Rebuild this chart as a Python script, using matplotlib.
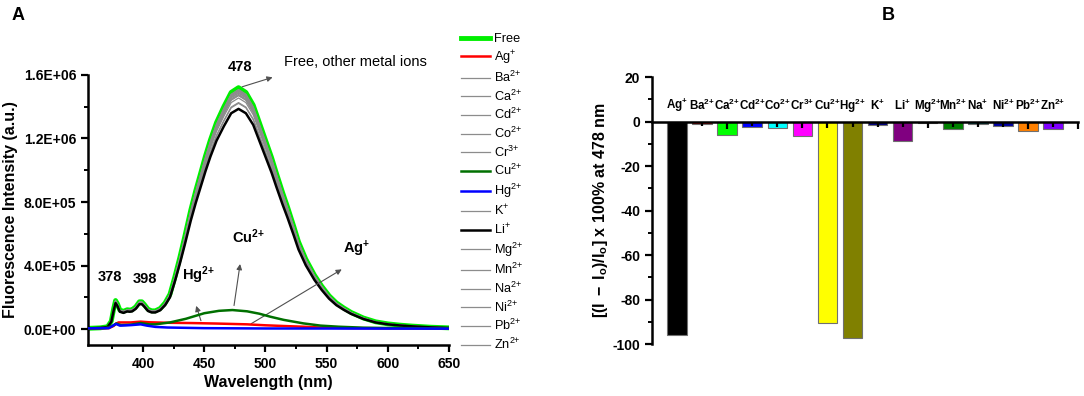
import numpy as np
import matplotlib
matplotlib.use('Agg')
import matplotlib.pyplot as plt
from matplotlib.ticker import MultipleLocator, FuncFormatter

plt.rcParams['font.family'] = ['Liberation Sans', 'DejaVu Sans']
plt.rcParams['mathtext.fontset'] = 'custom'
plt.rcParams['mathtext.rm'] = 'Liberation Sans'
plt.rcParams['mathtext.it'] = 'Liberation Sans:italic'
plt.rcParams['mathtext.bf'] = 'Liberation Sans:bold'
plt.rcParams['axes.unicode_minus'] = False

# ---- panel A data (intensity in units of 1e5 a.u.) ----
free_wl = [355, 365, 371, 374, 376, 377.5, 379, 381, 384, 387, 389, 391, 394, 397, 399,
           401, 404, 407, 410, 414, 418, 422, 426, 430, 434, 439, 443, 447, 451, 455,
           460, 466, 472, 478, 484, 490, 495, 500, 505, 509, 514, 518, 523, 527, 533,
           540, 546, 552, 558, 564, 570, 580, 590, 600, 610, 620, 635, 650]
free_int = [0.05, 0.08, 0.15, 0.5, 1.3, 1.8, 1.6, 1.2, 1.12, 1.22, 1.2, 1.22, 1.4, 1.72, 1.72,
            1.55, 1.25, 1.15, 1.15, 1.3, 1.65, 2.2, 3.3, 4.5, 5.8, 7.5, 8.7, 9.8, 10.9, 11.9,
            13.0, 14.0, 14.9, 15.2, 14.9, 14.1, 13.0, 11.9, 10.8, 9.8, 8.6, 7.7, 6.5, 5.5, 4.4,
            3.4, 2.7, 2.1, 1.65, 1.33, 1.05, 0.7, 0.46, 0.33, 0.25, 0.19, 0.12, 0.08]

cu_wl = [355, 370, 375, 378, 382, 390, 398, 405, 410, 422, 435, 450, 462, 473, 485, 495,
         504, 515, 531, 545, 560, 580, 600, 650]
cu_int = [0.05, 0.08, 0.2, 0.35, 0.25, 0.28, 0.38, 0.3, 0.3, 0.42, 0.65, 1.0, 1.15, 1.2,
          1.12, 0.97, 0.78, 0.58, 0.36, 0.22, 0.15, 0.09, 0.07, 0.05]

ag_wl = [355, 372, 376, 378, 380, 390, 398, 405, 420, 440, 460, 485, 500, 520, 531, 545,
         572, 600, 650]
ag_int = [0.05, 0.06, 0.2, 0.35, 0.42, 0.42, 0.47, 0.43, 0.4, 0.38, 0.35, 0.3, 0.24, 0.18,
          0.15, 0.1, 0.06, 0.05, 0.04]

hg_wl = [355, 372, 376, 378, 381, 390, 398, 403, 410, 420, 450, 500, 650]
hg_int = [0.05, 0.06, 0.25, 0.32, 0.22, 0.25, 0.3, 0.22, 0.14, 0.1, 0.06, 0.04, 0.03]

# ---- panel B data: change at 478 nm (%) ----
ions = ['Ag', 'Ba', 'Ca', 'Cd', 'Co', 'Cr', 'Cu', 'Hg', 'K', 'Li', 'Mg', 'Mn', 'Na',
        'Ni', 'Pb', 'Zn']
charges = ['+', '2+', '2+', '2+', '2+', '3+', '2+', '2+', '+', '+', '2+', '2+', '+',
           '2+', '2+', '2+']
change = [-96, -0.9, -6.2, -2.3, -2.8, -6.5, -90.5, -97.5, -1.6, -8.8, -0.8, -3.3, -1.3,
          -2.0, -4.3, -3.2]
change_err = [3, 2, 3.5, 2, 2.5, 3, 3, 2.5, 2.5, 2.5, 3, 2.5, 2.5, 2.5, 3.5, 2.5]
bar_colors = ['#000000', '#ff0000', '#00ff00', '#0000ff', '#00ffff', '#ff00ff', '#ffff00',
              '#808000', '#000080', '#800080', '#800000', '#008000', '#008080', '#0000a0',
              '#ff8000', '#8000ff']

legend_names = ['Free', 'Ag', 'Ba', 'Ca', 'Cd', 'Co', 'Cr', 'Cu', 'Hg', 'K', 'Li', 'Mg',
                'Mn', 'Na', 'Ni', 'Pb', 'Zn']
legend_charges = ['', '+', '2+', '2+', '2+', '2+', '3+', '2+', '2+', '+', '+', '2+', '2+',
                  '2+', '2+', '2+', '2+']


def sup(ch):
    # keep "+" as an ordinary symbol so mathtext adds no operator spacing
    return ch.replace('+', '{+}')


fig = plt.figure(figsize=(10.84, 3.96), dpi=100)
axA = fig.add_axes([0.0812, 0.1288, 0.333, 0.682])
axB = fig.add_axes([0.6015, 0.1313, 0.393, 0.674])

# ---- panel A ----
free_wl = np.array(free_wl)
free_int = np.array(free_int) * 1e5
special = {'Cu': (cu_wl, cu_int, '#007000'), 'Ag': (ag_wl, ag_int, '#ff0000'),
           'Hg': (hg_wl, hg_int, '#0000ff')}
handles = []
for name, ch in zip(legend_names, legend_charges):
    label = name if ch == '' else name + '$^{' + sup(ch) + '}$'
    if name == 'Free':
        h, = axA.plot(free_wl, free_int, color='#00ee00', lw=3.5, zorder=1, label=label)
    elif name in special:
        wl, it, col = special[name]
        h, = axA.plot(wl, np.array(it) * 1e5, color=col, lw=1.8, zorder=4, label=label)
    else:
        c = change[ions.index(name)]
        y = free_int * (1 + c / 100)
        if name == 'Li':
            h, = axA.plot(free_wl, y, color='black', lw=1.8, zorder=3, label=label)
        else:
            h, = axA.plot(free_wl, y, color='#8c8c8c', lw=0.9, zorder=2, label=label)
    handles.append(h)

axA.set_xlim(355, 650)
axA.set_ylim(-1e5, 1.6e6)
axA.spines['top'].set_visible(False)
axA.spines['right'].set_visible(False)
for s in ['left', 'bottom']:
    axA.spines[s].set_linewidth(1.8)
axA.xaxis.set_minor_locator(MultipleLocator(25))
axA.set_xticks([400, 450, 500, 550, 600, 650])
axA.yaxis.set_major_locator(MultipleLocator(4e5))
axA.yaxis.set_minor_locator(MultipleLocator(2e5))
axA.yaxis.set_major_formatter(FuncFormatter(lambda v, p: '{:.1E}'.format(v)))
axA.tick_params(which='major', length=5, width=1.6, labelsize=10)
axA.tick_params(which='minor', length=3, width=1.4)
for lab in axA.get_xticklabels() + axA.get_yticklabels():
    lab.set_fontweight('bold')
axA.set_xlabel('Wavelength (nm)', fontsize=11.5, fontweight='bold', labelpad=3)
axA.set_ylabel('Fluorescence Intensity (a.u.)', fontsize=11.5, fontweight='bold', labelpad=4)

arrow = dict(arrowstyle='-|>', color='#505050', lw=0.8, mutation_scale=8)
axA.annotate('', xy=(508, 1.59e6), xytext=(478.8, 1.52e6), arrowprops=arrow)
axA.annotate('', xy=(442.7, 1.63e5), xytext=(448, 0.36e5), arrowprops=arrow)
axA.annotate('', xy=(479.6, 4.27e5), xytext=(474, 1.31e5), arrowprops=arrow)
axA.annotate('', xy=(564.3, 3.85e5), xytext=(486.4, 0.25e5), arrowprops=arrow)
axA.text(479.6, 1.65e6, '478', ha='center', va='center', fontsize=10.5, fontweight='bold',
         clip_on=False)
axA.text(514.8, 1.68e6, 'Free, other metal ions', ha='left', va='center', fontsize=10.5,
         clip_on=False)
axA.text(373, 3.3e5, '378', ha='center', va='center', fontsize=10.5, fontweight='bold')
axA.text(401.7, 3.17e5, '398', ha='center', va='center', fontsize=10.5, fontweight='bold')
axA.text(445, 3.37e5, r'$\mathbf{Hg^{2{+}}}$', ha='center', va='center', fontsize=10.5)
axA.text(486, 5.8e5, r'$\mathbf{Cu^{2{+}}}$', ha='center', va='center', fontsize=10.5)
axA.text(574.7, 5.08e5, r'$\mathbf{Ag^{{+}}}$', ha='center', va='center', fontsize=10.5)

fig.legend(handles=handles, loc='upper left', bbox_to_anchor=(461 / 1084, 1 - 33 / 396),
           bbox_transform=fig.transFigure, frameon=False, fontsize=9.2,
           handlelength=2.3, handletextpad=0.3, labelspacing=0.27, borderpad=0,
           borderaxespad=0)

# ---- panel B ----
pos = np.arange(1, len(ions) + 1)
axB.bar(pos, change, width=0.78, color=bar_colors, edgecolor='#707070', lw=0.8, zorder=2)
axB.vlines(pos, -np.array(change_err), 0, color='black', lw=1.6, zorder=3)
for x, n, ch in zip(pos, ions, charges):
    axB.text(x, 7.2, r'$\mathbf{' + n + '^{' + sup(ch) + '}}$', ha='center', va='center',
             fontsize=8.4)
axB.set_xlim(0, 17)
axB.set_ylim(-100, 20)
axB.spines['top'].set_visible(False)
axB.spines['right'].set_visible(False)
axB.spines['bottom'].set_position(('data', 0))
axB.spines['bottom'].set_linewidth(1.8)
axB.spines['left'].set_linewidth(1.8)
axB.set_xticks([17])
axB.set_xticklabels([''])
axB.yaxis.set_major_locator(MultipleLocator(20))
axB.yaxis.set_minor_locator(MultipleLocator(10))
axB.tick_params(which='major', length=5, width=1.6, labelsize=10)
axB.tick_params(which='minor', length=3, width=1.4)
for lab in axB.get_yticklabels():
    lab.set_fontweight('bold')
axB.set_ylabel(r'$\mathbf{[(I\ -\ I_o)/I_o]\ x\ 100\%\ at\ 478\ nm}$', fontsize=11.5,
               labelpad=2)

fig.text(12 / 1084, 1 - 15 / 396, 'A', fontsize=13, fontweight='bold', va='center')
fig.text(882 / 1084, 1 - 15 / 396, 'B', fontsize=13, fontweight='bold', va='center')

fig.savefig('out.png', dpi=100)
